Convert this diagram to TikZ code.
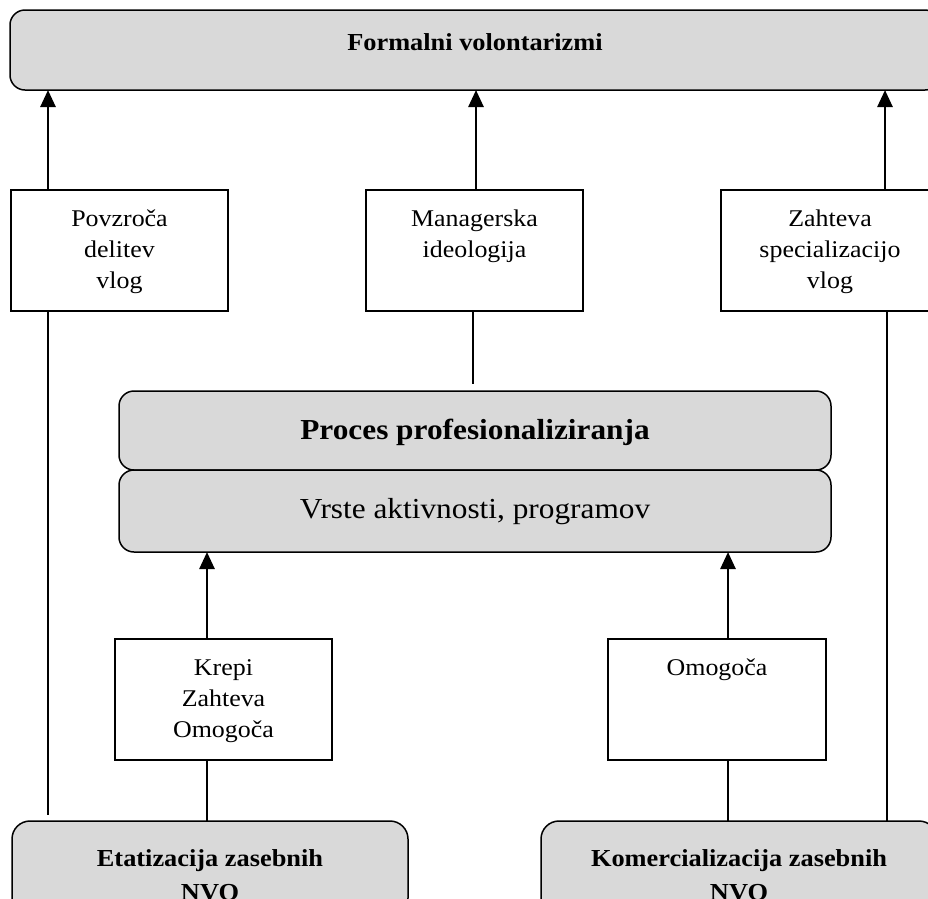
\documentclass[tikz,border=0pt]{standalone}
\usepackage{fontspec}
\setmainfont{Liberation Serif}[FakeStretch=1.08]
\usetikzlibrary{arrows.meta}
\definecolor{boxgray}{HTML}{D9D9D9}
\begin{document}
\begin{tikzpicture}[x=1pt,y=-1pt,
  rbox/.style={draw, line width=1.5pt, fill=boxgray, rounded corners=15pt, inner sep=0pt, outer sep=0pt, anchor=north west},
  sbox/.style={draw, line width=1.8pt, fill=white, inner sep=0pt, outer sep=0pt, anchor=north west, minimum width=217pt, minimum height=121pt},
  lbl/.style={anchor=base, inner sep=0pt, font=\fontsize{24}{31}\selectfont},
  blbl/.style={anchor=base, inner sep=0pt, font=\fontsize{24.4}{31}\selectfont\bfseries},
  mlbl/.style={anchor=base, inner sep=0pt, font=\fontsize{29}{31}\selectfont},
  conn/.style={line width=2.6pt, -{Triangle[length=17pt,width=15pt]}},
  plain/.style={line width=2.6pt}
]
\clip (0,0) rectangle (928,898);
% boxes
\node[rbox, minimum width=930pt, minimum height=80pt] (top) at (10,10) {};
\node[sbox] (b1) at (11,190) {};
\node[sbox] (b2) at (366,190) {};
\node[sbox, minimum width=219pt] (b3) at (721,190) {};
\node[rbox, minimum width=712pt, minimum height=79pt] (m1) at (119,391) {};
\node[rbox, minimum width=712pt, minimum height=82pt] (m2) at (119,470) {};
\node[sbox] (l1) at (115,639) {};
\node[sbox, minimum width=218pt] (l2) at (608,639) {};
\node[rbox, rounded corners=18pt, minimum width=396pt, minimum height=95pt] (d1) at (12,821) {};
\node[rbox, rounded corners=18pt, minimum width=396pt, minimum height=95pt] (d2) at (541,821) {};
% texts
\node[blbl] (tt) at (475,50) {Formalni volontarizmi};
\node[lbl] (t1a) at (119.5,226) {Povzroča};
\node[lbl] (t1b) at (119.5,257) {delitev};
\node[lbl] (t1c) at (119.5,288) {vlog};
\node[lbl] (t2a) at (474.5,226) {Managerska};
\node[lbl] (t2b) at (474.5,257) {ideologija};
\node[lbl] (t3a) at (830,226) {Zahteva};
\node[lbl] (t3b) at (830,257) {specializacijo};
\node[lbl] (t3c) at (830,288) {vlog};
\node[mlbl, font=\fontsize{29}{31}\selectfont\bfseries] (tm1) at (475,439) {Proces profesionaliziranja};
\node[mlbl] (tm2) at (475,518) {Vrste aktivnosti, programov};
\node[lbl] (t4a) at (223.5,675) {Krepi};
\node[lbl] (t4b) at (223.5,706) {Zahteva};
\node[lbl] (t4c) at (223.5,737) {Omogoča};
\node[lbl] (t5a) at (717,675) {Omogoča};
\node[blbl] (t6a) at (210,866) {Etatizacija zasebnih};
\node[blbl] (t6b) at (210,900) {NVO};
\node[blbl] (t7a) at (739,866) {Komercializacija zasebnih};
\node[blbl] (t7b) at (739,900) {NVO};
% connector columns
\coordinate (xa) at (48,0);
\coordinate (xb) at (476,0);
\coordinate (xc) at (885,0);
\coordinate (xd) at (473,0);
\coordinate (xe) at (887,0);
\coordinate (xf) at (207,0);
\coordinate (xg) at (728,0);
\coordinate (lend) at (48,815);
\coordinate (mend) at (473,384);
% arrows into top box
\draw[conn] (b1.north -| xa) -- (top.south -| xa);
\draw[conn] (b2.north -| xb) -- (top.south -| xb);
\draw[conn] (b3.north -| xc) -- (top.south -| xc);
% lines below upper boxes
\draw[plain] (b1.south -| xa) -- (lend);
\draw[plain] (b2.south -| xd) -- (mend);
\draw[plain] (b3.south -| xe) -- (d2.north -| xe);
% arrows into middle box
\draw[conn] (l1.north -| xf) -- (m2.south -| xf);
\draw[conn] (l2.north -| xg) -- (m2.south -| xg);
% lines from bottom boxes
\draw[plain] (d1.north -| xf) -- (l1.south -| xf);
\draw[plain] (d2.north -| xg) -- (l2.south -| xg);
\end{tikzpicture}
\end{document}
